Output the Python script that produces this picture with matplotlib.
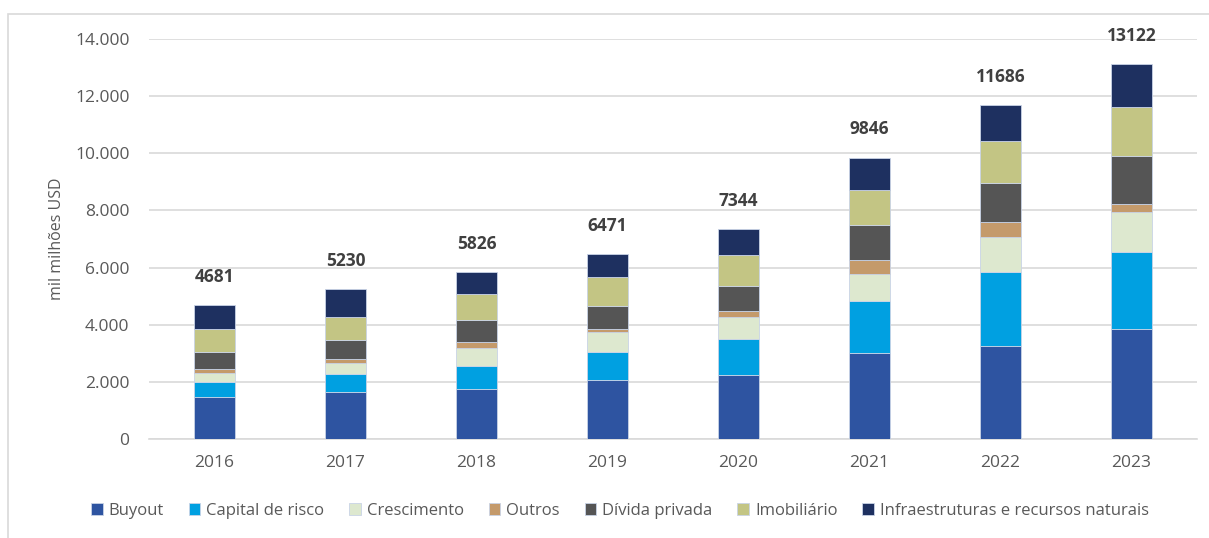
import matplotlib
matplotlib.use("Agg")
import matplotlib.pyplot as plt
from matplotlib.patches import Rectangle
from matplotlib.ticker import FuncFormatter
import numpy as np

plt.rcParams['font.family'] = ['Open Sans', 'DejaVu Sans']

years = ["2016", "2017", "2018", "2019", "2020", "2021", "2022", "2023"]
totals = [4681, 5230, 5826, 6471, 7344, 9846, 11686, 13122]

buyout = [1450, 1637, 1754, 2059, 2246, 2993, 3263, 3835]
capital_risco = [526, 620, 807, 970, 1251, 1825, 2597, 2716]
crescimento = [316, 386, 620, 702, 760, 971, 1204, 1403]
outros = [164, 152, 199, 117, 211, 492, 539, 267]
divida_privada = [572, 667, 784, 807, 877, 1204, 1355, 1698]
imobiliario = [821, 795, 912, 1006, 1099, 1241, 1463, 1706]
infraestruturas = [832, 973, 750, 810, 900, 1120, 1265, 1497]

series_names = ["Buyout", "Capital de risco", "Crescimento", "Outros",
                "Dívida privada", "Imobiliário",
                "Infraestruturas e recursos naturais"]
series_values = [buyout, capital_risco, crescimento, outros,
                 divida_privada, imobiliario, infraestruturas]
series_colors = ["#2E54A1", "#00A0E1", "#DDE8CF", "#C49A6B",
                 "#555555", "#C3C584", "#1E3060"]

W, H = 1209, 538
fig = plt.figure(figsize=(W / 100, H / 100), dpi=100)
fig.patch.set_facecolor("white")

# outer frame of the chart area
fig.patches.append(Rectangle((8 / W, -0.05), 1.2, (H - 14) / H + 0.05,
                             transform=fig.transFigure, fill=False,
                             edgecolor="#D9D9D9", linewidth=1.2, zorder=0))

ax = fig.add_axes([149 / W, 99.3 / H, 1048 / W, 399.4 / H])
x = np.arange(len(years))
bottom = np.zeros(len(years))
for name, vals, col in zip(series_names, series_values, series_colors):
    vals = np.array(vals, dtype=float)
    ax.bar(x, vals, width=0.32, bottom=bottom, color=col, label=name,
           edgecolor="#C9D3E6", linewidth=0.6, zorder=3)
    bottom += vals

for xi, top in zip(x, bottom):
    ax.annotate(f"{int(round(top))}", (xi, top), xytext=(0, 14),
                textcoords="offset points", ha="center", va="bottom",
                fontsize=12.5, fontweight="bold", color="#404040",
                annotation_clip=False)

ax.set_xlim(-0.5, len(years) - 0.5)
ax.set_ylim(0, 14000)
ax.set_yticks(np.arange(0, 14001, 2000))
ax.yaxis.set_major_formatter(FuncFormatter(lambda v, p: f"{int(v):,}".replace(",", ".")))
ax.set_xticks(x)
ax.set_xticklabels(years)
ax.tick_params(axis="y", length=0, pad=14, labelsize=12.5, labelcolor="#595959")
ax.tick_params(axis="x", length=0, pad=12, labelsize=12.5, labelcolor="#595959")
ax.grid(axis="y", color="#D9D9D9", linewidth=1.2, zorder=0)
ax.set_axisbelow(True)
for s in ["top", "right", "left"]:
    ax.spines[s].set_visible(False)
ax.spines["bottom"].set_color("#D9D9D9")
ax.spines["bottom"].set_linewidth(1.2)
ax.set_ylabel("mil milhões USD", fontsize=11.5, color="#595959", labelpad=7)

fig.legend(loc="center", bbox_to_anchor=(620 / W, 1 - 511 / H), ncol=7,
           frameon=False, fontsize=12, handlelength=0.7, handleheight=0.7,
           handletextpad=0.35, columnspacing=1.5, labelcolor="#595959")

fig.savefig("out.png", dpi=100, facecolor="white")
